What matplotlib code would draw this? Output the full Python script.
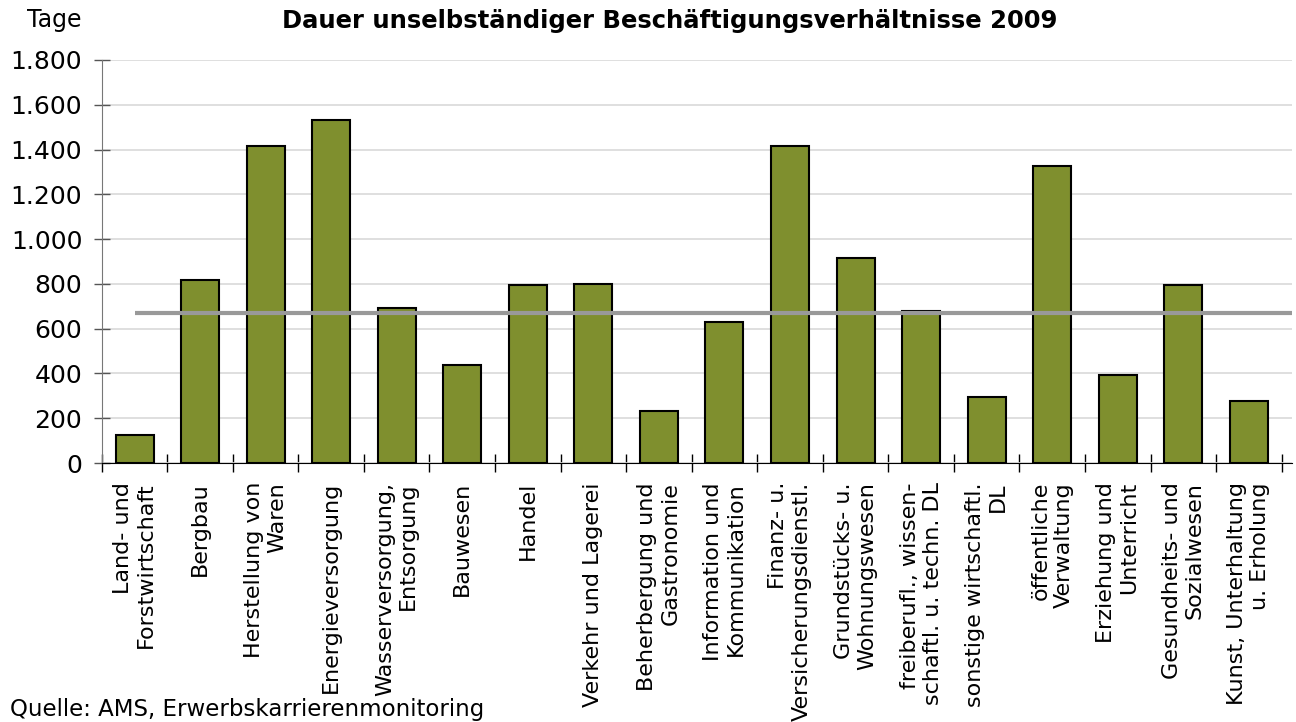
import numpy as np
import matplotlib
matplotlib.use("Agg")
import matplotlib.pyplot as plt

# Kategorien (Wirtschaftsabschnitte) und Dauer in Tagen
kategorien = [
    "Land- und\nForstwirtschaft",
    "Bergbau",
    "Herstellung von\nWaren",
    "Energieversorgung",
    "Wasserversorgung,\nEntsorgung",
    "Bauwesen",
    "Handel",
    "Verkehr und Lagerei",
    "Beherbergung und\nGastronomie",
    "Information und\nKommunikation",
    "Finanz- u.\nVersicherungsdienstl.",
    "Grundstücks- u.\nWohnungswesen",
    "freiberufl., wissen-\nschaftl. u. techn. DL",
    "sonstige wirtschaftl.\nDL",
    "öffentliche\nVerwaltung",
    "Erziehung und\nUnterricht",
    "Gesundheits- und\nSozialwesen",
    "Kunst, Unterhaltung\nu. Erholung",
]
tage = [125, 819, 1416, 1532, 694, 437, 793, 801, 232, 632,
        1417, 917, 678, 294, 1328, 393, 793, 277]
durchschnitt = 668
y_ticks = [0, 200, 400, 600, 800, 1000, 1200, 1400, 1600, 1800]
y_labels = ["0", "200", "400", "600", "800", "1.000", "1.200", "1.400", "1.600", "1.800"]

fig = plt.figure(figsize=(12.96, 7.22), dpi=100)
ax = fig.add_axes([0.0785, 0.3587, 0.9185, 0.5582])

x = np.arange(len(kategorien))
ax.bar(x, tage, width=0.58, color="#7F8F2E", edgecolor="black", linewidth=1.5, zorder=3)

xmax = len(kategorien) - 0.5 + 0.16
ax.plot([0, xmax], [durchschnitt, durchschnitt], color="#999999", linewidth=3, zorder=4,
        solid_capstyle="butt")

ax.set_xlim(-0.5, xmax)
ax.set_ylim(0, 1800)
ax.set_yticks(y_ticks)
ax.set_yticklabels(y_labels, fontsize=18)
ax.yaxis.grid(True, color="#D9D9D9", linewidth=1.2, zorder=0)
ax.set_axisbelow(True)

ax.set_xticks(np.arange(len(kategorien) + 1) - 0.5)
ax.set_xticklabels([])
ax.tick_params(axis="x", direction="inout", length=13, width=1, color="black")
ax.tick_params(axis="y", direction="inout", length=12, width=1, color="#555555", pad=8)

for s in ["top", "right"]:
    ax.spines[s].set_visible(False)
ax.spines["left"].set_color("#777777")
ax.spines["bottom"].set_color("black")

for i, lab in enumerate(kategorien):
    ax.annotate(lab, xy=(i, 0), xycoords=("data", "axes fraction"),
                xytext=(0, -19), textcoords="offset pixels",
                rotation=90, ha="center", va="top", multialignment="right",
                fontsize=16, linespacing=1.2)

fig.text(0.021, 0.9626, "Tage", fontsize=17, ha="left", va="baseline")
fig.text(0.517, 0.961, "Dauer unselbständiger Beschäftigungsverhältnisse 2009",
         fontsize=17.5, fontweight="bold", ha="center", va="baseline")
fig.text(0.008, 0.002, "Quelle: AMS, Erwerbskarrierenmonitoring", fontsize=16.5,
         ha="left", va="bottom")

fig.savefig("out.png", dpi=100)
